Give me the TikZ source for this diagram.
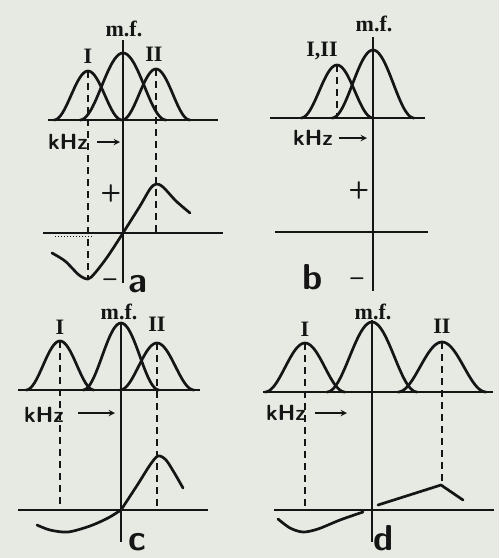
\documentclass[tikz,border=0pt]{standalone}
\usepackage{fontspec}
\newfontfamily\labfont{Liberation Serif}
\usepackage{tikz}
\usetikzlibrary{positioning}

\definecolor{paper}{HTML}{E6EAE2}
\definecolor{ink}{HTML}{151515}

% bell: centre, base, height, half width
\newcommand{\bell}[4]{%
  \draw[curve] plot[domain=-#4:#4, samples=41, smooth] ({#1+\x},{#2-#3*(1+cos(180*\x/#4))/2});}

\begin{document}
\begin{tikzpicture}[>=stealth, x=1pt, y=-1pt, ink,
  curve/.style={line width=2.7pt, line join=round, line cap=round},
  axis/.style={line width=2.3pt},
  mfline/.style={line width=1.5pt},
  guide/.style={line width=1.5pt, dash pattern=on 7pt off 5pt},
  lab/.style={font=\fontsize{22}{22}\selectfont\labfont\bfseries, inner sep=1pt},
  khz/.style={font=\fontsize{22}{22}\selectfont\sffamily\bfseries, inner sep=1pt},
  sign/.style={font=\fontsize{24}{24}\selectfont\sffamily\bfseries, inner sep=0pt},
  tag/.style={font=\fontsize{36}{36}\selectfont\sffamily\bfseries, inner sep=0pt, anchor=base},
  kharrow/.style={->, line width=1.8pt}]
\fill[paper] (0,0) rectangle (499,558);
\useasboundingbox (0,0) rectangle (499,558);

% a
\draw[axis] (48,120) -- (218,120);
\draw[mfline] (123,40) -- (123,283);
\bell{88}{120}{49}{34}
\bell{123}{120}{67}{43}
\bell{156}{120}{51}{34}
\draw[guide] (88,71) -- (88,279);
\draw[guide] (156,69) -- (156,233);
\node (mfA) [lab] at (124,29) {m.f.};
\node (IA) [lab] at (88,56) {I};
\node (IIA) [lab] at (154,54) {II};
\node (khzA) [khz] at (68,142) {kHz};
\coordinate (tailA) at (97,142);
\coordinate (tipA) at (120,142);
\draw[kharrow] (tailA) -- (tipA);
\draw[axis] (43,233) -- (223,233);
\draw[line width=1pt, dotted] (55,236) -- (93,236);
\draw[curve] plot[smooth] coordinates {(123,233) (140,206) (150,189) (156,184) (163,187) (176,201) (190,213)};
\draw[curve] plot[smooth] coordinates {(123,233) (108,256) (95,273) (88,279) (79,275) (65,261) (52,253)};
\node (plusA) [sign] at (111,193) {+};
\node (minusA) [sign] at (110,283) {--};
\node (tagA) [tag] at (138,292) {a};

% b
\draw[axis] (270,118) -- (425,118);
\draw[mfline] (373,37) -- (373,291);
\bell{337}{118}{53}{36}
\bell{373}{118}{68}{41}
\draw[guide] (337,65) -- (337,118);
\node (mfB) [lab] at (374,24) {m.f.};
\node (IIIB) [lab] at (322,51) {I,II};
\node (khzB) [khz] at (313,138) {kHz};
\coordinate (tailB) at (339,138);
\coordinate (tipB) at (367,138);
\draw[kharrow] (tailB) -- (tipB);
\draw[axis] (275,232) -- (428,232);
\node (plusB) [sign] at (359,190) {+};
\node (minusB) [sign] at (357,282) {--};
\node (tagB) [tag] at (313,289) {b};

% c
\draw[axis] (18,390) -- (200,390);
\draw[mfline] (121,322) -- (121,542);
\bell{60}{390}{49}{34}
\bell{121}{390}{67}{38}
\bell{157}{390}{47}{37}
\draw[guide] (60,341) -- (60,510);
\draw[guide] (157,343) -- (157,510);
\node (mfC) [lab] at (119,312) {m.f.};
\node (IC) [lab] at (60,327) {I};
\node (IIC) [lab] at (157,324) {II};
\node (khzC) [khz] at (44,415) {kHz};
\coordinate (tailC) at (78,413);
\coordinate (tipC) at (115,413);
\draw[kharrow] (tailC) -- (tipC);
\draw[axis] (18,510) -- (208,510);
\draw[curve] plot[smooth] coordinates {(121,510) (138,484) (150,465) (158,456) (166,460) (175,474) (183,488)};
\draw[curve] plot[smooth] coordinates {(121,510) (108,518) (90,526) (68,532) (50,530) (37,525)};
\node (tagC) [tag] at (137,550) {c};

% d
\draw[axis] (263,392) -- (493,392);
\draw[mfline] (372,320) -- (372,542);
\bell{305}{392}{49}{40}
\bell{372}{392}{70}{45}
\bell{442}{392}{50}{44}
\draw[guide] (305,343) -- (305,510);
\draw[guide] (442,342) -- (442,485);
\node (mfD) [lab] at (373,312) {m.f.};
\node (ID) [lab] at (305,329) {I};
\node (IID) [lab] at (442,326) {II};
\node (khzD) [khz] at (286,413) {kHz};
\coordinate (tailD) at (315,413);
\coordinate (tipD) at (347,413);
\draw[kharrow] (tailD) -- (tipD);
\draw[axis] (274,510) -- (494,510);
\draw[curve] (378,505) -- (441,485) -- (463,500);
\draw[curve] plot[smooth] coordinates {(363,512) (340,520) (318,529) (303,532) (290,528) (278,519)};
\node (tagD) [tag] at (384,550) {d};
\end{tikzpicture}
\end{document}
